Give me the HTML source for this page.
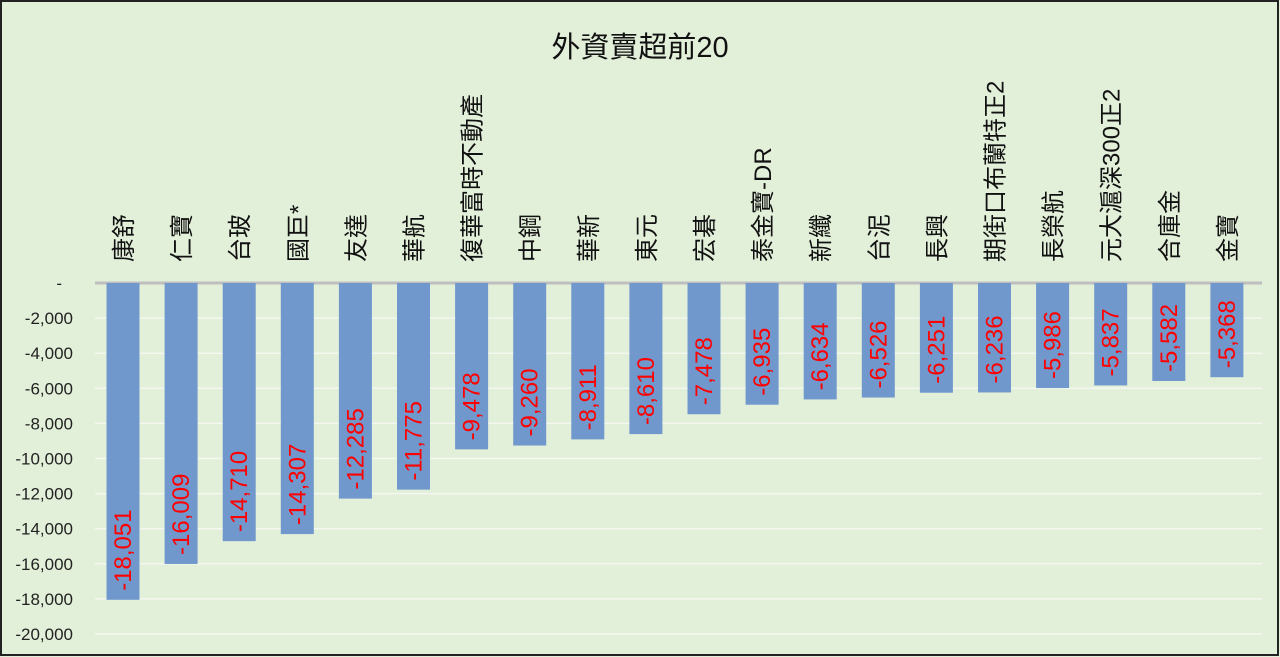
<!DOCTYPE html>
<html><head><meta charset="utf-8">
<style>
html,body{margin:0;padding:0;background:#e2efd9;}
svg{display:block;font-family:"Liberation Sans","Noto Sans CJK TC",sans-serif;}
</style></head>
<body>
<svg width="1280" height="657" viewBox="0 0 1280 657">
<rect x="1" y="1" width="1277" height="654" fill="#e2efd9" stroke="#222" stroke-width="2"/>
<text x="640" y="57" text-anchor="middle" font-size="29" fill="#111">外資賣超前20</text>
<g id="grid"></g><g id="bars"></g><g id="labels"></g>
</svg>
<script>
const categories=["康舒","仁寶","台玻","國巨*","友達","華航","復華富時不動產","中鋼","華新","東元","宏碁","泰金寶-DR","新纖","台泥","長興","期街口布蘭特正2","長榮航","元大滬深300正2","合庫金","金寶"];
const values=[-18051,-16009,-14710,-14307,-12285,-11775,-9478,-9260,-8911,-8610,-7478,-6935,-6634,-6526,-6251,-6236,-5986,-5837,-5582,-5368];
const ticks=[0,-2000,-4000,-6000,-8000,-10000,-12000,-14000,-16000,-18000,-20000];
const tickLabels=["-","-2,000","-4,000","-6,000","-8,000","-10,000","-12,000","-14,000","-16,000","-18,000","-20,000"];
const NS="http://www.w3.org/2000/svg";
const y0=283,pxPer=351/20000,x0=123,step=58.1,bw=33;
const y=v=>y0-v*pxPer;
const x=i=>x0+i*step;
function mk(t,a,p){const e=document.createElementNS(NS,t);for(const k in a)e.setAttribute(k,a[k]);p.appendChild(e);return e;}
const grid=document.getElementById('grid'),bars=document.getElementById('bars'),labels=document.getElementById('labels');
ticks.forEach((t,i)=>{
  const l=mk('line',{x1:95,x2:1262,y1:y(t),y2:y(t),stroke:t===0?'#bfbfbf':'#f4f8f0','stroke-width':t===0?3:1.5},grid);
  
  
  const tx=mk('text',{x:t===0?62:73,y:y(t)+6,'text-anchor':'end','font-size':17,fill:'#222'},grid);
  tx.textContent=tickLabels[i];
  
  
});
values.forEach((v,i)=>{
  const r=mk('rect',{x:x(i)-bw/2,y:y0,width:bw,height:y(v)-y0,fill:'#7098cc'},bars);
  
  
  const c=mk('text',{transform:`translate(${x(i)+9},262) rotate(-90)`,'font-size':24,fill:'#111'},labels);
  c.textContent=categories[i];
  
  
  const vl=mk('text',{transform:`translate(${x(i)+8},${y(v)-9}) rotate(-90)`,'font-size':24,fill:'#ff0000'},labels);
  vl.textContent=v.toLocaleString('en-US');
  
  
});
</script>
</body></html>
